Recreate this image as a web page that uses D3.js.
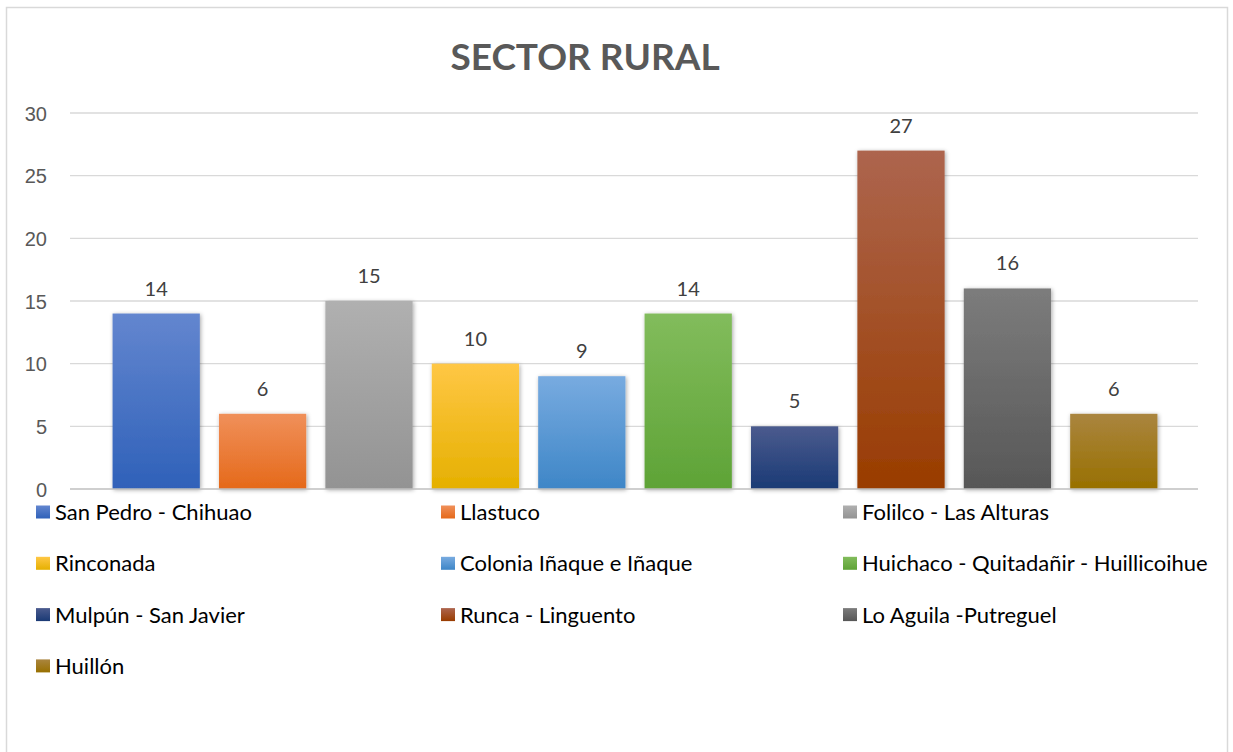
<!DOCTYPE html>
<html>
<head>
  <meta charset="utf-8">
  <title>Sector Rural</title>
  <script src="https://d3js.org/d3.v7.min.js"></script>
  <style>
    body { margin: 0; background: #fff; font-family: Lato, "Open Sans", sans-serif; }
    .grid line { stroke: #d9d9d9; stroke-width: 1.3px; }
    .axis text { fill: #595959; font-size: 20px; }
    .val { fill: #404040; font-size: 20px; text-anchor: middle; }
    .leg text { fill: #000; font-size: 22px; }
  </style>
</head>
<body>
  <svg width="1233" height="752"></svg>
  <script>
    // chart data
    const categories = ["San Pedro - Chihuao", "Llastuco", "Folilco - Las Alturas", "Rinconada",
      "Colonia Iñaque e Iñaque", "Huichaco - Quitadañir - Huillicoihue", "Mulpún - San Javier",
      "Runca - Linguento", "Lo Aguila -Putreguel", "Huillón"];
    const values = [14, 6, 15, 10, 9, 14, 5, 27, 16, 6];
    const yTicks = [0, 5, 10, 15, 20, 25, 30];
    // top / bottom colour of each bar's gradient
    const colorsTop = ["#6386cf", "#f0905a", "#b0b0b0", "#ffc745", "#78abe0", "#82bc5c", "#4b5b8e", "#ad654e", "#7c7c7c", "#aa853f"];
    const colorsBottom = ["#2f61b9", "#e5691a", "#939393", "#e5b000", "#3e86c7", "#5ea336", "#1a3a75", "#993c00", "#575757", "#987000"];

    const svg = d3.select("svg");

    // frame
    svg.append("rect").attr("x", 6.5).attr("y", 7.5).attr("width", 1221).attr("height", 760)
      .attr("fill", "none").attr("stroke", "#d9d9d9").attr("stroke-width", 1.5);

    const defs = svg.append("defs");
    categories.forEach((c, i) => {
      const g = defs.append("linearGradient").attr("id", "g" + i)
        .attr("x1", 0).attr("y1", 0).attr("x2", 0).attr("y2", 1);
      g.append("stop").attr("offset", "0%").attr("stop-color", colorsTop[i]);
      g.append("stop").attr("offset", "100%").attr("stop-color", colorsBottom[i]);
    });
    const f = defs.append("filter").attr("id", "shadow")
      .attr("x", "-20%").attr("y", "-20%").attr("width", "140%").attr("height", "140%");
    f.append("feDropShadow").attr("dx", 1).attr("dy", 1).attr("stdDeviation", 2)
      .attr("flood-color", "#000").attr("flood-opacity", 0.35);

    svg.append("text").attr("x", 585).attr("y", 70).attr("text-anchor", "middle")
      .attr("font-size", 37).attr("font-weight", "bold").attr("fill", "#595959")
      .text("SECTOR RURAL");

    const y = d3.scaleLinear().domain([0, 30]).range([489, 113]);
    const x = d3.scaleBand().domain(categories).range([103, 1167]).paddingInner(0.18).paddingOuter(0.09);

    svg.append("g").attr("class", "grid")
      .selectAll("line").data(yTicks.filter(d => d > 0)).enter().append("line")
      .attr("x1", 70).attr("x2", 1198)
      .attr("y1", d => y(d)).attr("y2", d => y(d));

    const yAxis = svg.append("g").attr("class", "axis").attr("transform", "translate(70,0)")
      .call(d3.axisLeft(y).tickValues(yTicks).tickSize(0).tickPadding(23));
    yAxis.select(".domain").remove();
    yAxis.selectAll("text").attr("dy", "0.36em");

    svg.append("g").selectAll("rect").data(values).enter().append("rect")
      .attr("x", (d, i) => x(categories[i]))
      .attr("y", d => y(d))
      .attr("width", x.bandwidth())
      .attr("height", d => y(0) - y(d))
      .attr("fill", (d, i) => `url(#g${i})`)
      .attr("filter", "url(#shadow)");

    svg.append("line").attr("x1", 70).attr("x2", 1198).attr("y1", y(0)).attr("y2", y(0))
      .attr("stroke", "#bfbfbf").attr("stroke-width", 1.5);

    svg.append("g").selectAll("text").data(values).enter().append("text")
      .attr("class", "val")
      .attr("x", (d, i) => x(categories[i]) + x.bandwidth() / 2)
      .attr("y", d => y(d) - 18)
      .text(d => d);

    // legend, 3 columns
    const colX = [43, 448, 850];
    const leg = svg.append("g").attr("class", "leg").selectAll("g").data(categories).enter().append("g")
      .attr("transform", (d, i) => `translate(${colX[i % 3]},${512 + Math.floor(i / 3) * 51.3})`);
    leg.append("rect").attr("x", -7).attr("y", -6.5).attr("width", 14).attr("height", 13)
      .attr("fill", (d, i) => `url(#g${i})`);
    leg.append("text").attr("x", 12).attr("dy", "0.36em").text(d => d);
  </script>
</body>
</html>
